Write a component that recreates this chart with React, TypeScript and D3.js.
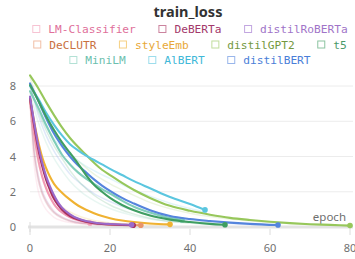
import React from 'react';
import * as d3 from 'd3';

// smoothed curves, [epoch, loss]
const lmClassifierLoss = [[0, 7.2], [1, 5.3], [2, 3.9], [3, 2.9], [4, 2.2], [5, 1.7], [6, 1.3], [7, 1.02], [8, 0.82], [10, 0.55], [12, 0.38], [14, 0.27], [15, 0.23]];
const debertaLoss = [[0, 7.3], [1, 5.8], [2, 4.5], [3, 3.5], [4, 2.7], [5, 2.1], [6, 1.6], [7, 1.25], [8, 0.98], [10, 0.62], [12, 0.42], [14, 0.3], [16, 0.22], [18, 0.17], [20, 0.14], [23, 0.11], [25.8, 0.1]];
const distilRobertaLoss = [[0, 7.4], [1, 6.0], [2, 4.7], [3, 3.7], [4, 2.9], [5, 2.3], [6, 1.8], [7, 1.4], [8, 1.1], [10, 0.72], [12, 0.48], [14, 0.34], [16, 0.26], [18, 0.2], [20, 0.17], [23, 0.14], [25.4, 0.13]];
const declutrLoss = [[0, 7.3], [1, 5.9], [2, 4.6], [3, 3.6], [4, 2.8], [5, 2.2], [6, 1.7], [7, 1.33], [8, 1.04], [10, 0.67], [12, 0.45], [14, 0.32], [16, 0.24], [18, 0.19], [20, 0.15], [24, 0.12], [27.7, 0.1]];
const styleEmbLoss = [[0, 7.3], [1, 6.0], [2, 4.9], [3, 4.0], [4, 3.35], [5, 2.85], [6, 2.45], [8, 1.95], [10, 1.55], [12, 1.22], [14, 0.98], [16, 0.78], [18, 0.62], [20, 0.5], [23, 0.37], [26, 0.28], [30, 0.2], [35, 0.15]];
const distilGpt2Loss = [[0, 8.6], [2, 7.9], [4, 7.1], [6, 6.35], [8, 5.65], [10, 5.05], [12, 4.55], [14, 4.1], [16, 3.65], [18, 3.25], [20, 2.95], [23, 2.5], [26, 2.1], [30, 1.65], [35, 1.2], [40, 0.92], [45, 0.7], [50, 0.52], [55, 0.4], [60, 0.3], [65, 0.22], [70, 0.16], [75, 0.12], [80, 0.08]];
const t5Loss = [[0, 8.05], [2, 7.2], [4, 6.3], [6, 5.5], [8, 4.8], [10, 4.2], [12, 3.6], [14, 2.95], [16, 2.4], [18, 2.0], [20, 1.65], [23, 1.25], [26, 0.95], [30, 0.65], [35, 0.42], [40, 0.28], [45, 0.18], [48.75, 0.13]];
const miniLmLoss = [[0, 7.7], [2, 6.8], [4, 5.8], [6, 4.9], [8, 4.1], [10, 3.55], [12, 3.1], [14, 2.75], [16, 2.45], [18, 2.15], [20, 1.9], [23, 1.5], [26, 1.15], [30, 0.82], [34, 0.56], [38, 0.4]];
const albertLoss = [[0, 8.0], [2, 7.3], [4, 6.5], [6, 5.8], [8, 5.2], [10, 4.7], [12, 4.35], [14, 4.05], [16, 3.8], [18, 3.55], [20, 3.3], [23, 2.95], [26, 2.6], [30, 2.2], [35, 1.7], [40, 1.3], [43.75, 0.97]];
const distilBertLoss = [[0, 8.15], [2, 7.2], [4, 6.2], [6, 5.3], [8, 4.6], [10, 4.0], [12, 3.5], [14, 3.1], [16, 2.7], [18, 2.35], [20, 2.05], [23, 1.65], [26, 1.33], [30, 0.95], [35, 0.62], [40, 0.45], [45, 0.34], [50, 0.25], [55, 0.18], [62, 0.11]];

// raw (unsmoothed) runs, drawn faint
const lmClassifierRaw = [[0, 7.0], [1, 3.6], [2, 2.1], [3, 1.4], [4, 1.0], [5, 0.75], [6, 0.55], [8, 0.35], [10, 0.26], [12, 0.2], [15, 0.18]];
const debertaRaw = [[0, 7.2], [1, 4.2], [2, 2.7], [3, 1.9], [4, 1.4], [5, 1.05], [6, 0.8], [8, 0.5], [10, 0.33], [13, 0.2], [16, 0.14], [20, 0.1], [25.8, 0.08]];
const distilRobertaRaw = [[0, 7.3], [1, 4.5], [2, 3.0], [3, 2.1], [4, 1.55], [5, 1.2], [6, 0.9], [8, 0.58], [10, 0.38], [13, 0.24], [16, 0.17], [20, 0.13], [25.4, 0.11]];
const declutrRaw = [[0, 7.2], [1, 4.4], [2, 2.9], [3, 2.0], [4, 1.5], [5, 1.12], [6, 0.85], [8, 0.55], [10, 0.36], [13, 0.22], [16, 0.16], [20, 0.12], [27.7, 0.09]];
const styleEmbRaw = [[0, 7.1], [1, 5.0], [2, 3.7], [3, 2.9], [4, 2.3], [6, 1.6], [8, 1.15], [10, 0.85], [13, 0.55], [16, 0.37], [20, 0.24], [25, 0.16], [30, 0.12], [35, 0.1]];
const miniLmRaw = [[0, 7.6], [2, 6.0], [4, 4.8], [6, 3.9], [8, 3.2], [10, 2.6], [13, 1.95], [16, 1.5], [20, 1.05], [25, 0.7], [30, 0.45], [38, 0.25]];
const albertRaw = [[0, 7.9], [2, 6.7], [4, 5.7], [6, 5.0], [8, 4.5], [10, 4.1], [13, 3.6], [16, 3.2], [20, 2.75], [25, 2.2], [30, 1.75], [35, 1.35], [40, 1.05], [43.75, 0.85]];
const distilBertRaw = [[0, 8.1], [2, 6.4], [4, 5.2], [6, 4.3], [8, 3.6], [10, 3.0], [13, 2.4], [16, 1.9], [20, 1.45], [25, 1.0], [30, 0.7], [40, 0.38], [50, 0.2], [62, 0.09]];
const t5Raw = [[0, 8.0], [2, 6.6], [4, 5.5], [6, 4.6], [8, 3.9], [10, 3.2], [13, 2.4], [16, 1.8], [20, 1.25], [25, 0.8], [30, 0.5], [40, 0.22], [48.75, 0.11]];
const distilGpt2Raw = [[0, 8.5], [2, 7.2], [4, 6.2], [6, 5.4], [8, 4.7], [10, 4.2], [13, 3.55], [16, 3.0], [20, 2.45], [25, 1.9], [30, 1.4], [40, 0.78], [50, 0.45], [60, 0.26], [70, 0.14], [80, 0.07]];

const seriesNames = ['LM-Classifier', 'DeBERTa', 'distilRoBERTa', 'DeCLUTR', 'styleEmb', 'distilGPT2', 't5', 'MiniLM', 'AlBERT', 'distilBERT'];
const lineColors = ['#f29bb5', '#a8305e', '#9a6acb', '#e8946a', '#f0b232', '#97c75b', '#3f9e62', '#80cdb9', '#5bc6df', '#5585dd'];
const textColors = ['#e0709a', '#a3386a', '#a074c8', '#c9703e', '#e8a838', '#74983e', '#4a9a6a', '#6cbfae', '#40b8d8', '#4a7ed8'];
const smoothed = [lmClassifierLoss, debertaLoss, distilRobertaLoss, declutrLoss, styleEmbLoss, distilGpt2Loss, t5Loss, miniLmLoss, albertLoss, distilBertLoss];
const raw = [lmClassifierRaw, debertaRaw, distilRobertaRaw, declutrRaw, styleEmbRaw, distilGpt2Raw, t5Raw, miniLmRaw, albertRaw, distilBertRaw];
const legendRows = [[0, 1, 2], [3, 4, 5, 6], [7, 8, 9]];
// draw order: back to front
const drawOrder = [7, 5, 8, 9, 6, 4, 0, 3, 1, 2];

const xTicks = [0, 20, 40, 60, 80];
const yTicks = [0, 2, 4, 6, 8];

const W = 355;
const H = 259;

const App: React.FC = () => {
  const x = d3.scaleLinear().domain([0, 80]).range([30, 350]);
  const y = d3.scaleLinear().domain([0, 8]).range([227, 86]);

  const line = d3.line<number[]>()
    .x(d => x(d[0]))
    .y(d => y(d[1]))
    .curve(d3.curveMonotoneX);

  const monoFont = '"DejaVu Sans Mono", monospace';
  const sansFont = '"Noto Sans", "Open Sans", sans-serif';
  const charW = 6.74;
  const boxW = 7;
  const boxGap = 9;
  const itemGap = 22.5;
  const legendCx = 190;
  const rowY = [29, 44.5, 60];

  return (
    <svg width={W} height={H} style={{ position: 'absolute', left: 0, top: 0 }}>
      <text x={188} y={17} textAnchor="middle" fontFamily={sansFont} fontWeight="bold" fontSize={14.5} fill="#333">train_loss</text>

      {legendRows.map((row, r) => {
        const widths = row.map(i => boxW + boxGap + seriesNames[i].length * charW);
        const total = d3.sum(widths) + itemGap * (row.length - 1);
        let cur = legendCx - total / 2;
        return row.map((i, k) => {
          const x0 = cur;
          cur += widths[k] + itemGap;
          return (
            <g key={i}>
              <rect x={x0 + 0.5} y={rowY[r] - 3.5} width={boxW} height={boxW} fill="none" stroke={lineColors[i]} strokeOpacity={0.6} strokeWidth={1} />
              <text x={x0 + boxW + boxGap} y={rowY[r] + 4} fontFamily={monoFont} fontSize={11.2} fill={textColors[i]}>{seriesNames[i]}</text>
            </g>
          );
        });
      })}

      {yTicks.filter(t => t > 0).map(t => (
        <line key={t} x1={30} x2={353} y1={y(t)} y2={y(t)} stroke="#ececec" strokeWidth={1} />
      ))}
      <line x1={28} x2={353} y1={y(0)} y2={y(0)} stroke="#e3e3e3" strokeWidth={3} />
      <line x1={30} x2={30} y1={y(0) - 5} y2={y(0) + 5} stroke="#dcdcdc" strokeWidth={1} />
      {xTicks.map(t => (
        <line key={t} x1={x(t)} x2={x(t)} y1={y(0) + 2} y2={y(0) + 8} stroke="#dcdcdc" strokeWidth={1} />
      ))}

      {yTicks.map(t => (
        <text key={t} x={16} y={y(t) + 4} textAnchor="end" fontFamily={sansFont} fontSize={11} fill="#6f6f6f">{t}</text>
      ))}
      {xTicks.map(t => (
        <text key={t} x={x(t)} y={252} textAnchor="middle" fontFamily={sansFont} fontSize={11} fill="#6f6f6f">{t}</text>
      ))}
      <text x={346} y={221} textAnchor="end" fontFamily={sansFont} fontSize={11.5} fill="#6f6f6f">epoch</text>

      {drawOrder.map(i => (
        <path key={`raw-${i}`} d={line(raw[i]) || ''} fill="none" stroke={lineColors[i]} strokeWidth={1.5} strokeOpacity={0.18} />
      ))}
      {drawOrder.map(i => {
        const last = smoothed[i][smoothed[i].length - 1];
        return (
          <g key={`s-${i}`}>
            <path d={line(smoothed[i]) || ''} fill="none" stroke={lineColors[i]} strokeWidth={2.1} strokeLinejoin="round" strokeLinecap="round" />
            <circle cx={x(last[0])} cy={y(last[1])} r={2.8} fill={lineColors[i]} />
          </g>
        );
      })}
    </svg>
  );
};

export default App;
